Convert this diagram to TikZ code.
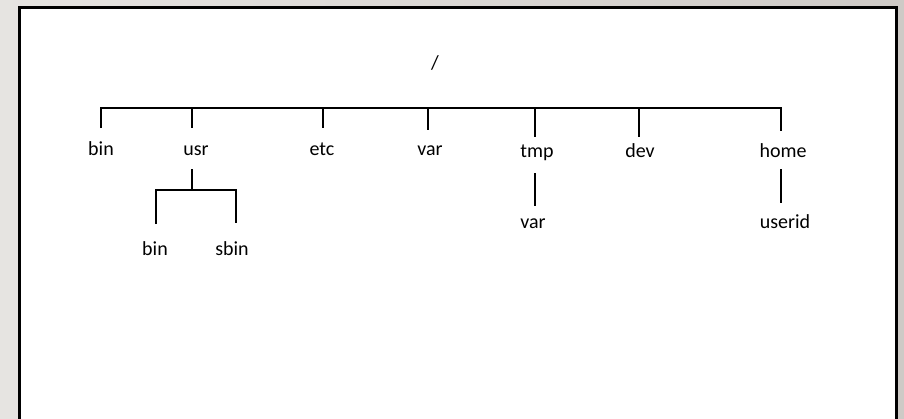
\documentclass[tikz,border=0pt]{standalone}
\usepackage{fontspec}
\setmainfont{Carlito}
\begin{document}
\begin{tikzpicture}[x=1pt,y=-1pt,
  dir/.style={anchor=base,inner sep=0pt,font=\fontsize{20}{24}\selectfont},
  branch/.style={line width=1.8pt,black}]
\useasboundingbox (0,0) rectangle (904,418);
\clip (0,0) rectangle (904,418);
% page backdrop and slide frame
\shade[left color=black!9!white!96!brown, right color=black!19!white!94!brown] (0,0) rectangle (904,418);
\draw[line width=3pt,fill=white] (19,7) rectangle (896,440);

% root
\node[dir] (root) at (435,69) {/};

% first level
\node[dir] (bin)  at (101,155) {bin};
\node[dir] (usr)  at (196,155) {usr};
\node[dir] (etc)  at (322,155) {etc};
\node[dir] (var)  at (430,155) {var};
\node[dir] (tmp)  at (537,157) {tmp};
\node[dir] (dev)  at (640,157) {dev};
\node[dir] (home) at (783,157) {home};

% second level
\node[dir] (ubin)   at (155,255) {bin};
\node[dir] (usbin)  at (232,255) {sbin};
\node[dir] (tvar)   at (533,228) {var};
\node[dir] (userid) at (785,228) {userid};

% attachment points of the branches
\coordinate (barL) at (101,108);
\coordinate (barR) at (781,108);
\coordinate (bin-t)  at (101,128);
\coordinate (usr-t)  at (192,128);
\coordinate (etc-t)  at (323,128);
\coordinate (var-t)  at (428,130);
\coordinate (tmp-t)  at (535,137);
\coordinate (dev-t)  at (639,137);
\coordinate (home-t) at (781,131);

\coordinate (usr-b)  at (192,169);
\coordinate (subL)   at (156,190);
\coordinate (subR)   at (236,190);
\coordinate (ubin-t) at (156,224);
\coordinate (usbin-t) at (236,223);

\coordinate (tmp-b)  at (535,173);
\coordinate (tvar-t) at (535,206);
\coordinate (home-b) at (781,169);
\coordinate (userid-t) at (781,203);

% top-level bar with its drops
\draw[branch] (bin-t) -- (barL) -- (barR) -- (home-t);
\foreach \c in {usr-t,etc-t,var-t,tmp-t,dev-t}
  \draw[branch] (\c |- barL) -- (\c);

% /usr children
\draw[branch] (usr-b) -- (usr-b |- subL);
\draw[branch] (ubin-t) -- (subL) -- (subR) -- (usbin-t);

% /tmp and /home children
\draw[branch] (tmp-b) -- (tvar-t);
\draw[branch] (home-b) -- (userid-t);
\end{tikzpicture}
\end{document}
